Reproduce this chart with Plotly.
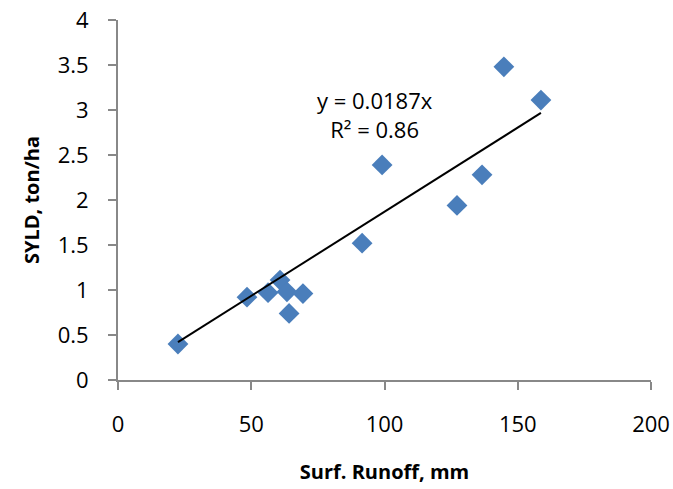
import plotly.graph_objects as go

runoff = [22.5, 48.4, 56.3, 60.8, 63.4, 64.2, 69.4, 91.6, 99.1, 127.2, 136.6, 144.8, 158.7]
syld = [0.40, 0.92, 0.97, 1.11, 0.98, 0.74, 0.96, 1.52, 2.39, 1.94, 2.28, 3.48, 3.11]
slope = 0.0187
x_ticks = [0, 50, 100, 150, 200]
y_ticks = [0, 0.5, 1, 1.5, 2, 2.5, 3, 3.5, 4]

fit_x = [min(runoff), max(runoff)]
fit_y = [slope * v for v in fit_x]

font = "Open Sans, sans-serif"
fig = go.Figure()
fig.add_trace(go.Scatter(x=runoff, y=syld, mode="markers",
                         marker=dict(symbol="diamond", size=16, color="#4A7EBB",
                                     line=dict(width=0)), showlegend=False))
fig.add_trace(go.Scatter(x=fit_x, y=fit_y, mode="lines",
                         line=dict(color="black", width=2), showlegend=False))
fig.add_annotation(x=96.4, y=2.95, xref="x", yref="y",
                   text="y = 0.0187x<br>R² = 0.86", showarrow=False,
                   font=dict(family=font, size=22, color="black"), align="center")

fig.update_layout(
    width=673, height=489,
    margin=dict(l=118, r=22, t=20, b=109, autoexpand=False),
    paper_bgcolor="white", plot_bgcolor="white",
    font=dict(family=font, size=22, color="black"),
    xaxis=dict(range=[0, 200], tickvals=x_ticks, showgrid=False, zeroline=False,
               automargin=False,
               showline=True, linecolor="#888888", linewidth=2,
               ticks="outside", ticklen=8, tickcolor="#888888", tickwidth=2,
               ticklabelstandoff=16,
               title=dict(text="<b>Surf. Runoff, mm</b>", font=dict(size=20), standoff=28)),
    yaxis=dict(range=[0, 4], tickvals=y_ticks, showgrid=False, zeroline=False,
               automargin=False,
               showline=True, linecolor="#888888", linewidth=2,
               ticks="outside", ticklen=8, tickcolor="#888888", tickwidth=2,
               ticklabelstandoff=15,
               title=dict(text="<b>SYLD, ton/ha</b>", font=dict(size=20), standoff=13)),
)
fig.write_html("out.html")
